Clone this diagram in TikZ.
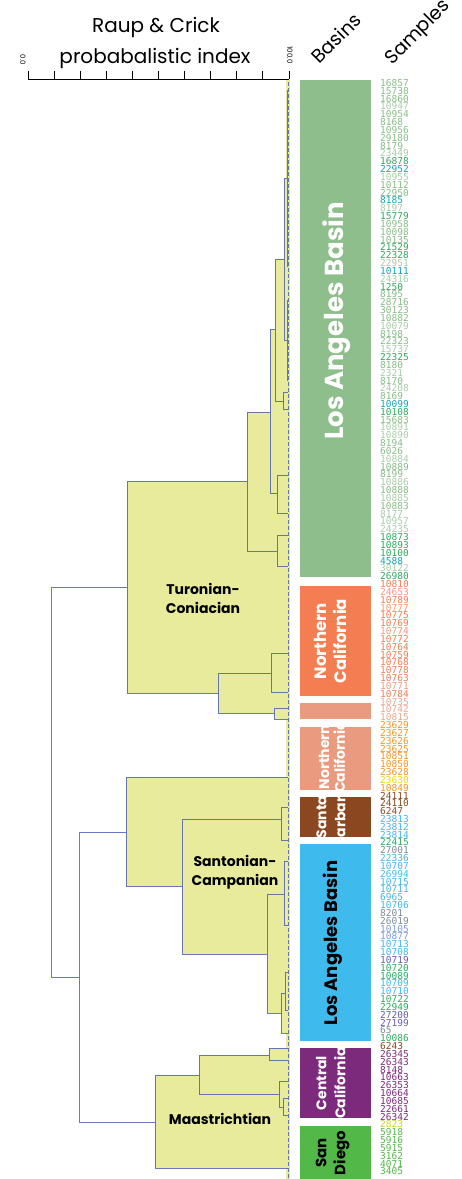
\documentclass[tikz,border=0pt]{standalone}
\usepackage{graphicx}
\usepackage{fontspec}
\setmainfont{Poppins}
\newfontfamily\pixfont{DejaVu Sans Mono}
\usetikzlibrary{arrows.meta,calc,positioning}
\definecolor{linkblue}{HTML}{4F62B0}
\definecolor{cladefill}{HTML}{E8EA9C}
\definecolor{labar}{HTML}{8EBE8C}
\definecolor{ncbar}{HTML}{F47D52}
\definecolor{ncsoft}{HTML}{EA9A7E}
\definecolor{sbbar}{HTML}{8B4720}
\definecolor{lbbar}{HTML}{3EBAEC}
\definecolor{ccbar}{HTML}{7C2A7C}
\definecolor{sdbar}{HTML}{52B848}
\definecolor{lagreen}{HTML}{86BC86}
\definecolor{lapale}{HTML}{A9CBA9}
\definecolor{ladark}{HTML}{2FAA5C}
\definecolor{lateal}{HTML}{14A2B4}
\definecolor{ncorange}{HTML}{F47D52}
\definecolor{ncpale}{HTML}{F29A7C}
\definecolor{ncsalmon}{HTML}{EBA690}
\definecolor{ncamber}{HTML}{F7941E}
\definecolor{ncyellow}{HTML}{F6D20C}
\definecolor{sbbrown}{HTML}{8B4A22}
\definecolor{lablue}{HTML}{42B8EA}
\definecolor{lagray}{HTML}{7D8B92}
\definecolor{lalav}{HTML}{7F9BD6}
\definecolor{laviolet}{HTML}{6A5CAE}
\definecolor{ccpurple}{HTML}{7D2B7D}
\definecolor{sdyellow}{HTML}{C6D62E}
\definecolor{sdgreen}{HTML}{52B848}
\tikzset{
  branch/.style={draw=linkblue,line width=0.9pt,opacity=0.85},
  period/.style={font=\fontsize{14}{19}\selectfont\bfseries,align=center,text=black},
  basinlab/.style={align=center,inner sep=0pt},
  sample/.style={font=\pixfont\fontsize{9.5}{9.5}\selectfont,anchor=west,inner sep=0pt},
  head/.style={font=\fontsize{19}{19}\selectfont,anchor=south west,inner sep=0pt}
}
\newcommand{\uprot}[1]{\rotatebox{90}{\begin{tabular}{@{}c@{}}#1\end{tabular}}}
\begin{document}
\begin{tikzpicture}[x=1pt,y=-1pt,>=Stealth]
\useasboundingbox (0,0) rectangle (462,1179);
% --- title and axis
\node[font=\fontsize{20}{20}\selectfont,anchor=base] (ttl) at (156,32) {Raup \& Crick};
\node[font=\fontsize{20}{20}\selectfont,anchor=base] (ttlb) at (155,63) {probabalistic index};
\draw[line width=0.9pt] (28,79) -- (289,79);
\foreach \k in {0,...,10} {\draw[line width=0.9pt] (28+\k*26.1,79) -- ++(0,-8);}
\node[font=\fontsize{7}{7}\selectfont,inner sep=0pt] (lo) at (23,60) {\rotatebox{-90}{0.0}};
\node[font=\fontsize{7}{7}\selectfont,inner sep=0pt] (hi) at (290,55) {\rotatebox{-90}{100.0}};
\node[head] (basins) at (309,65) {\rotatebox{45}{Basins}};
\node[head] (samples) at (382,69) {\rotatebox{45}{Samples}};
% --- dendrogram: clade fills
\fill[cladefill] (285.5,80) rectangle (290,1179);
\foreach \x/\ya/\yb in {127/481/693, 247/412/551, 270/329/493, 275/259/401, 284/178/340,
  287/90/266, 287/300/380, 283/392/409, 277/475/513, 277/535/566, 218/673/713, 271/653/692,
  274/708/719, 126/777/886, 182/819/954, 281/807/840, 267/894/1013, 284/861/925, 281/993/1033,
  285/972/1010, 155/1075/1168, 199/1055/1094, 269/1048/1060, 279/1081/1107, 283/1098/1115}
  {\fill[cladefill] (\x,\ya) rectangle (288,\yb);}
% --- dendrogram: branches (node x / top y / top end / bottom y / bottom end)
\foreach \x/\ya/\xa/\yb/\xb in {51/587/127/977/79, 79/832/126/1122/155,
  127/481/247/693/218, 247/412/270/551/277, 270/329/275/493/277, 275/259/284/401/283,
  284/178/287/340/287, 287/90/288/266/288, 287/300/288/380/288, 283/392/288/409/288,
  277/475/288/513/288, 277/535/288/566/288, 218/673/271/713/274, 271/653/288/692/288,
  274/708/288/719/288, 126/777/288/886/182, 182/819/281/954/267, 281/807/288/840/288,
  267/894/284/1013/281, 284/861/288/925/288, 281/993/285/1033/288, 285/972/288/1010/288,
  155/1075/199/1168/288, 199/1055/269/1094/279, 269/1048/288/1060/288,
  279/1081/288/1107/283, 283/1098/288/1115/288}
  {\draw[branch] (\xa,\ya) -- (\x,\ya) -- (\x,\yb) -- (\xb,\yb);}
\draw[branch,dash pattern=on 4pt off 2pt] (288.5,82) -- (288.5,1179);
% --- period labels
\node[period] (turon) at (203,598) {Turonian-\\Coniacian};
\node[period] (santon) at (235,872) {Santonian-\\Campanian};
\node[period] (maas) at (220,1119) {Maastrichtian};
% --- basin bars
\fill[labar] (300,80) rectangle (371,577);
\fill[ncbar] (300,586) rectangle (371,696);
\fill[ncsoft] (300,703) rectangle (371,719);
\fill[ncsoft] (300,727) rectangle (371,790);
\fill[sbbar] (300,797) rectangle (371,837);
\fill[lbbar] (300,844) rectangle (371,1041);
\fill[ccbar] (300,1048) rectangle (371,1118);
\fill[sdbar] (300,1126) rectangle (371,1179);
\node[basinlab,text=white,font=\fontsize{26}{26}\selectfont\bfseries] (labasin) at (337,321) {\rotatebox{90}{Los Angeles Basin}};
\node[basinlab,text=white,font=\fontsize{16.5}{20}\selectfont\bfseries] (ncal) at (332,641) {\uprot{Northern\\California}};
\begin{scope}
\clip (300,727) rectangle (371,790);
\node[basinlab,text=white,font=\fontsize{14}{15}\selectfont\bfseries] (ncalb) at (334,757) {\uprot{Northern\\California}};
\end{scope}
\begin{scope}
\clip (300,797) rectangle (371,837);
\node[basinlab,text=white,font=\fontsize{14}{19}\selectfont\bfseries] (sbar) at (332,817) {\uprot{Santa\\Barbara}};
\end{scope}
\node[basinlab,text=black,font=\fontsize{18}{18}\selectfont\bfseries] (labasinb) at (333,943) {\rotatebox{90}{Los Angeles Basin}};
\node[basinlab,text=white,font=\fontsize{14}{19}\selectfont\bfseries] (ccal) at (332,1083) {\uprot{Central\\California}};
\begin{scope}
\clip (300,1126) rectangle (371,1179);
\node[basinlab,text=black,font=\fontsize{15}{19}\selectfont\bfseries] (sdiego) at (332,1153) {\uprot{San\\Diego}};
\end{scope}
% --- sample column
\foreach \lab/\col [count=\i from 0] in {16857/lagreen,15738/lagreen,16860/lagreen,10947/lapale,
  10954/lagreen,8168/lagreen,10956/lagreen,29180/lagreen,8179/lagreen,23449/lapale,16878/ladark,
  22952/lateal,10955/lapale,10112/lagreen,22950/lagreen,8185/lateal,8197/lapale,15779/ladark,
  10958/lagreen,10098/lagreen,10135/lagreen,21529/ladark,22328/ladark,22951/lapale,10111/lateal,
  24316/lapale,1250/ladark,8195/lagreen,28716/lagreen,30123/lagreen,10882/lagreen,10079/lapale,
  8198/lagreen,22323/lagreen,15737/lapale,22325/ladark,8180/lagreen,2321/lapale,8170/lagreen,
  24208/lapale,8169/lagreen,10099/lateal,10108/ladark,15683/lagreen,10891/lapale,10890/lapale,
  8194/lagreen,6026/lagreen,10884/lapale,10889/lagreen,8199/lagreen,10886/lapale,10888/lagreen,
  10885/lapale,10883/lagreen,8177/lapale,10957/lapale,24235/lapale,10873/ladark,10893/ladark,
  10100/ladark,4588/lateal,30122/lapale,26980/ladark,
  10810/ncorange,24653/ncpale,10789/ncorange,10777/ncpale,10775/ncorange,10769/ncorange,
  10774/ncpale,10772/ncorange,10764/ncorange,10759/ncorange,10768/ncorange,10778/ncorange,
  10763/ncorange,10771/ncpale,10784/ncorange,10735/ncsalmon,10742/ncsalmon,10815/ncsalmon,
  23629/ncamber,23627/ncamber,23626/ncamber,23625/ncamber,10851/ncamber,10850/ncamber,
  23628/ncamber,23630/ncyellow,10849/ncamber,24111/sbbrown,24110/sbbrown,6247/sbbrown,
  23813/lablue,23812/lablue,23814/lablue,22415/ladark,27001/lagray,22336/lablue,10707/lablue,
  26994/lablue,10715/lablue,10711/lablue,6965/lablue,10706/lablue,8201/lagray,26019/lagray,
  10105/lalav,10877/lalav,10713/lablue,10708/lablue,10719/laviolet,10720/ladark,10089/ladark,
  10709/lablue,10710/lablue,10722/ladark,22949/ladark,27200/laviolet,27199/laviolet,65/lagray,
  10086/ladark,6243/sbbrown,26345/ccpurple,26343/ccpurple,8148/ccpurple,10663/ccpurple,
  26353/ccpurple,10664/ccpurple,10685/ccpurple,22661/ccpurple,26342/ccpurple,2823/sdyellow,
  5918/sdgreen,5916/sdgreen,5915/sdgreen,3162/sdgreen,4071/sdgreen,3405/sdgreen}
  {\node[sample,text=\col] (s\i) at (380,{83+\i*7.83}) {\lab};}
\end{tikzpicture}
\end{document}
